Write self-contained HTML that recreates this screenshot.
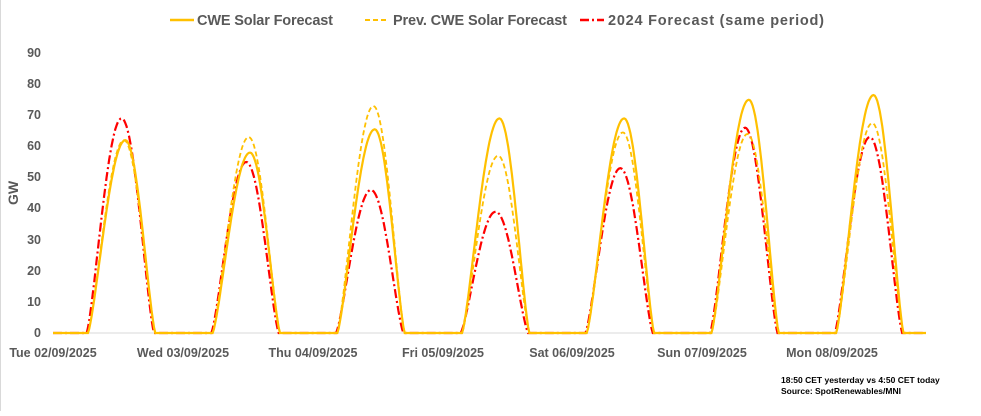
<!DOCTYPE html>
<html><head><meta charset="utf-8"><style>
html,body{margin:0;padding:0;background:#fff;}
body{width:981px;height:411px;overflow:hidden;position:relative;font-family:"Liberation Sans",Arial,sans-serif;}
svg text{font-family:"Liberation Sans",Arial,sans-serif;font-weight:bold;fill:#595959;}
</style></head><body>
<svg id="s" width="981" height="411" xmlns="http://www.w3.org/2000/svg">
<line x1="0.5" y1="0" x2="0.5" y2="411" stroke="#d9d9d9"/>
<line x1="170" y1="20" x2="194" y2="20" stroke="#ffc000" stroke-width="2.5"/>
<text x="197" y="25" font-size="14.5" textLength="136">CWE Solar Forecast</text>
<line x1="365" y1="20" x2="389" y2="20" stroke="#ffc000" stroke-width="2" stroke-dasharray="5,3"/>
<text x="393" y="25" font-size="14.5" textLength="174">Prev. CWE Solar Forecast</text>
<line x1="580" y1="20" x2="604" y2="20" stroke="#ff0000" stroke-width="2.5" stroke-dasharray="9,3,2,3"/>
<text x="608" y="25" font-size="14.5" textLength="216">2024 Forecast (same period)</text>
<g font-size="12.5" text-anchor="end">
<text x="41" y="57">90</text><text x="41" y="88">80</text><text x="41" y="119">70</text>
<text x="41" y="150">60</text><text x="41" y="181">50</text><text x="41" y="212">40</text>
<text x="41" y="244">30</text><text x="41" y="275">20</text><text x="41" y="306">10</text>
<text x="41" y="337">0</text>
</g>
<text transform="translate(18,193) rotate(-90)" font-size="14" text-anchor="middle">GW</text>
<line x1="53" y1="333" x2="926" y2="333" stroke="#d9d9d9" stroke-width="1"/>
<g font-size="12.5" text-anchor="middle">
<text x="53" y="357">Tue 02/09/2025</text>
<text x="183" y="357">Wed 03/09/2025</text>
<text x="313" y="357">Thu 04/09/2025</text>
<text x="443" y="357">Fri 05/09/2025</text>
<text x="572" y="357">Sat 06/09/2025</text>
<text x="702" y="357">Sun 07/09/2025</text>
<text x="832" y="357">Mon 08/09/2025</text>
</g>
<g font-size="8.5">
<text x="781" y="383" style="fill:#000">18:50 CET yesterday vs  4:50 CET today</text>
<text x="781" y="394" style="fill:#000">Source: SpotRenewables/MNI</text>
</g>
<g id="lines"></g>
</svg>
<script>
var X0=53,DW=124.7,Y0=333,K=3.11;
var y=[62,58,65.5,69,69,75,76.5],p=[62,63,73,57,64.5,64,67.5],r=[69,55,46,39,53,66,63];
function path(pk,rs,st,pkf){var d="";for(var i=0;i<=700;i++){var t=i/100,day=Math.floor(t);if(day>6)day=6;var f=t-day,v=0;
if(f>rs&&f<st){var u;if(f<pkf)u=(f-rs)/(pkf-rs)*0.5;else u=0.5+(f-pkf)/(st-pkf)*0.5;v=pk[day]*Math.pow(Math.sin(Math.PI*u),1.3);}
var xx=X0+t*DW,yy=Y0-K*v;d+=(i?"L":"M")+xx.toFixed(1)+","+yy.toFixed(1);}return d;}
var g=document.getElementById("lines");
function add(d,c,w,da){var e=document.createElementNS("http://www.w3.org/2000/svg","path");e.setAttribute("d",d);e.setAttribute("fill","none");e.setAttribute("stroke",c);e.setAttribute("stroke-width",w);if(da)e.setAttribute("stroke-dasharray",da);g.appendChild(e);}
add(path(r,0.27,0.81,0.55),"#ff0000",2.2,"9,3,2,3");
add(path(p,0.28,0.82,0.57),"#ffc000",1.8,"5,3");
add(path(y,0.28,0.82,0.58),"#ffc000",2.2,null);
</script>
</body></html>
